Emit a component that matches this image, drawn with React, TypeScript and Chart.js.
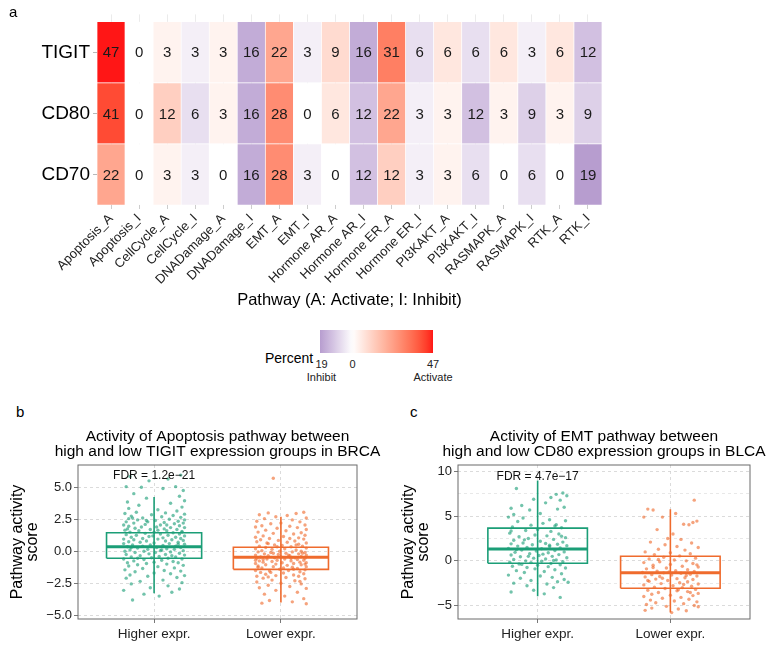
import React, { useEffect, useRef } from "react";
import { Chart, registerables } from "chart.js";

Chart.register(...registerables);

const FONT = '"Liberation Sans", Arial, Helvetica, sans-serif';
Chart.defaults.font.family = FONT;
Chart.defaults.color = "#222";

// ---------------- Heatmap data ----------------
const pathways = [
  "Apoptosis_A", "Apoptosis_I", "CellCycle_A", "CellCycle_I", "DNADamage_A", "DNADamage_I",
  "EMT_A", "EMT_I", "Hormone AR_A", "Hormone AR_I", "Hormone ER_A", "Hormone ER_I",
  "PI3KAKT_A", "PI3KAKT_I", "RASMAPK_A", "RASMAPK_I", "RTK_A", "RTK_I",
];
const genes = ["TIGIT", "CD80", "CD70"];
const tigitPct = [47, 0, 3, 3, 3, 16, 22, 3, 9, 16, 31, 6, 6, 6, 6, 3, 6, 12];
const cd80Pct = [41, 0, 12, 6, 3, 16, 28, 0, 6, 12, 22, 3, 3, 12, 3, 9, 3, 9];
const cd70Pct = [22, 0, 3, 3, 0, 16, 28, 3, 0, 12, 12, 3, 3, 6, 0, 6, 0, 19];
const heatXTitle = "Pathway (A: Activate; I: Inhibit)";
const legendTitle = "Percent";
const legendInhibit = 19;
const legendActivate = 47;
const legendLabels = ["Inhibit", "Activate"];

// ---------------- Box plot data ----------------
const groupLabels = ["Higher expr.", "Lower expr."];
const brcaTitle = ["Activity of Apoptosis pathway between", "high and low TIGIT expression groups in BRCA"];
const blcaTitle = ["Activity of EMT pathway between", "high and low CD80 expression groups in BLCA"];
const yTitle = ["Pathway activity", "score"];
const brcaFdr = "FDR = 1.2e\u221221";
const blcaFdr = "FDR = 4.7e\u221217";
const brcaFdrY = 5.9;
const blcaFdrY = 9.4;
const brcaRange = [-5.29, 6.74];
const blcaRange = [-6.52, 10.74];
const brcaMajor = [-5, -2.5, 0, 2.5, 5];
const brcaMajorLabels = ["\u22125.0", "\u22122.5", "0.0", "2.5", "5.0"];
const brcaMinor = [-3.75, -1.25, 1.25, 3.75, 6.25];
const blcaMajor = [-5, 0, 5, 10];
const blcaMajorLabels = ["\u22125", "0", "5", "10"];
const blcaMinor = [-2.5, 2.5, 7.5];
// [lower whisker, q1, median, q3, upper whisker]
const brcaHighStats = [-3.28, -0.55, 0.36, 1.45, 4.25];
const brcaLowStats = [-4.0, -1.41, -0.47, 0.31, 2.7];
const blcaHighStats = [-3.97, -0.27, 1.33, 3.67, 9.0];
const blcaLowStats = [-5.78, -3.08, -1.33, 0.51, 5.78];

// jittered points: [horizontal jitter, score]
const brcaHighPts = [
  [-0.19, 5.85], [0.11, 5.65], [-0.04, 5.5], [0.21, 5.95], [-0.22, 5.05], [-0.1, 5.0], [0.07, 4.9], [0.17, 5.05],
  [0.23, 4.75], [-0.16, 4.5], [0.2, 4.3], [-0.06, 4.15], [0.24, 3.95], [-0.21, 3.85], [0.13, 3.75], [-0.12, 3.6],
  [0.22, 3.45], [-0.2, 3.35], [0.03, 3.25], [0.18, 3.15], [-0.14, 3.05], [0.09, 3.0],
  [-0.23, 2.95], [0.24, 2.9], [-0.02, 2.85], [0.15, 2.8], [-0.18, 2.75], [0.06, 2.7], [0.21, 2.65], [-0.09, 2.6],
  [-0.2, 2.55], [0.12, 2.5], [0.24, 2.45], [-0.13, 2.45], [0.01, 2.4], [0.19, 2.35], [-0.22, 2.3], [-0.05, 2.3],
  [0.08, 2.25], [0.23, 2.2], [-0.16, 2.2], [0.16, 2.15], [-0.07, 2.1], [0.05, 2.05], [-0.24, 2.05], [0.2, 2.0],
  [-0.2, 1.95], [-0.1, 1.9], [0.02, 1.9], [0.13, 1.85], [0.24, 1.85], [-0.15, 1.8], [0.08, 1.75], [-0.03, 1.7],
  [0.18, 1.7], [-0.23, 1.65], [0.1, 1.6], [-0.12, 1.6], [0.22, 1.55], [0.0, 1.5], [-0.19, 1.5], [0.15, 1.45],
  [-0.07, 1.4], [0.05, 1.35], [0.2, 1.35], [-0.22, 1.3], [-0.14, 1.25], [0.11, 1.25], [0.24, 1.2], [-0.04, 1.15],
  [0.17, 1.1], [-0.18, 1.1], [0.07, 1.05], [-0.09, 1.0], [0.21, 1.0], [-0.24, 0.95],
  [0.03, 0.95], [-0.16, 0.9], [0.14, 0.9], [0.23, 0.85], [-0.06, 0.8], [0.09, 0.8], [-0.2, 0.75], [0.19, 0.7],
  [-0.11, 0.7], [0.0, 0.65], [-0.24, 0.6], [0.12, 0.6], [0.24, 0.55], [-0.03, 0.5], [-0.17, 0.5], [0.07, 0.45],
  [0.17, 0.4], [-0.09, 0.4], [-0.21, 0.35], [0.02, 0.3], [0.21, 0.3], [-0.13, 0.25], [0.1, 0.2], [-0.05, 0.15],
  [0.16, 0.15], [-0.19, 0.1], [0.05, 0.05], [0.23, 0.05], [-0.08, 0.0], [-0.23, 0.0],
  [0.13, -0.05], [-0.15, -0.1], [0.01, -0.1], [0.2, -0.15], [-0.04, -0.2], [0.09, -0.25], [-0.22, -0.25], [0.24, -0.3],
  [-0.11, -0.35], [0.04, -0.4], [0.17, -0.45], [-0.18, -0.45], [-0.02, -0.5], [0.11, -0.55], [-0.24, -0.6], [0.22, -0.6],
  [-0.08, -0.65], [0.06, -0.7], [-0.16, -0.75], [0.15, -0.8], [0.0, -0.85], [-0.21, -0.9], [0.19, -0.9], [-0.06, -0.95],
  [0.1, -1.0], [-0.13, -1.05], [0.23, -1.1], [-0.2, -1.15], [0.03, -1.2], [0.16, -1.3], [-0.09, -1.35], [-0.23, -1.45],
  [0.08, -1.5], [0.21, -1.55], [-0.15, -1.6], [0.0, -1.7], [0.13, -1.75], [-0.19, -1.85], [0.24, -1.9], [-0.05, -1.95],
  [0.18, -2.05], [-0.22, -2.1], [0.07, -2.25], [-0.11, -2.35], [0.22, -2.45], [-0.18, -2.55], [0.11, -2.7], [-0.03, -2.85],
  [0.2, -2.95], [-0.24, -3.05], [0.14, -3.2], [-0.08, -3.35], [0.04, -3.5], [-0.17, -3.8],
  [-0.17, 2.6], [0.1, 2.05], [-0.01, 1.2], [0.19, 0.55], [-0.21, 1.75], [0.06, 0.1], [-0.13, -0.55], [0.22, 1.5],
  [-0.06, 2.4], [0.14, -0.35], [-0.18, 0.3], [0.03, 1.65],
];
const brcaLowPts = [
  [-0.06, 5.7], [-0.1, 3.0], [0.18, 3.05], [0.12, 2.95], [-0.17, 2.85], [0.05, 2.8], [-0.04, 2.7], [0.2, 2.6],
  [-0.13, 2.55], [0.09, 2.45], [-0.19, 2.35], [0.15, 2.3], [0.0, 2.2], [-0.08, 2.15], [0.19, 2.05], [-0.15, 2.0],
  [0.07, 1.95], [-0.2, 1.9], [0.13, 1.85], [-0.03, 1.8], [0.2, 1.7], [-0.12, 1.65], [0.04, 1.6], [-0.18, 1.5],
  [0.16, 1.45], [-0.06, 1.4], [0.1, 1.35], [0.19, 1.25], [-0.14, 1.2], [0.02, 1.15], [-0.2, 1.1], [0.14, 1.05],
  [-0.09, 1.0], [0.07, 1.0], [0.18, 0.95], [-0.16, 0.9], [-0.02, 0.85], [0.11, 0.8], [-0.19, 0.75], [0.05, 0.7],
  [0.2, 0.65], [-0.1, 0.6], [0.14, 0.55], [-0.05, 0.5], [0.01, 0.45], [-0.17, 0.4], [0.17, 0.4], [0.08, 0.35],
  [-0.12, 0.3], [0.2, 0.25], [-0.2, 0.2], [0.03, 0.2], [-0.07, 0.15], [0.12, 0.1], [-0.15, 0.05], [0.16, 0.0],
  [-0.01, 0.0], [0.09, -0.05], [-0.18, -0.05], [0.19, -0.1], [-0.08, -0.1], [0.04, -0.15], [-0.13, -0.2], [0.14, -0.2],
  [-0.02, -0.25], [0.2, -0.3], [-0.2, -0.3], [0.07, -0.35], [-0.1, -0.35], [0.16, -0.4], [0.0, -0.45], [-0.16, -0.45],
  [0.11, -0.5], [-0.05, -0.5], [0.19, -0.55], [-0.19, -0.55], [0.03, -0.6], [-0.11, -0.6], [0.13, -0.65], [-0.03, -0.7],
  [0.18, -0.7], [-0.17, -0.75], [0.08, -0.75], [-0.07, -0.8], [0.15, -0.85], [-0.14, -0.85], [0.01, -0.9], [0.2, -0.9],
  [-0.2, -0.95], [0.1, -0.95], [-0.04, -1.0], [0.16, -1.05], [-0.12, -1.05], [0.05, -1.1], [-0.18, -1.15], [0.2, -1.2],
  [-0.06, -1.2], [0.09, -1.25], [-0.15, -1.3], [0.13, -1.35], [-0.01, -1.4], [0.19, -1.45], [-0.2, -1.5], [0.06, -1.5],
  [-0.09, -1.55], [0.15, -1.6], [-0.16, -1.65], [0.02, -1.7], [0.18, -1.75], [-0.12, -1.8], [0.1, -1.85], [-0.04, -1.9],
  [-0.19, -1.95], [0.14, -1.95], [0.04, -2.05], [-0.14, -2.1], [0.19, -2.15], [-0.07, -2.25], [0.11, -2.3], [-0.19, -2.4],
  [0.0, -2.5], [0.16, -2.55], [-0.1, -2.65], [0.07, -2.75], [-0.17, -2.85], [0.2, -2.9], [-0.04, -3.05], [0.13, -3.2],
  [-0.13, -3.35], [0.03, -3.5], [0.18, -3.7], [-0.09, -3.85], [-0.15, -4.05], [0.09, -3.95], [0.2, -4.1],
  [-0.11, 0.65], [0.06, -0.3], [-0.08, -1.65], [0.17, -0.15], [-0.14, -0.65], [0.1, -1.4], [-0.03, 0.35], [0.15, -2.35],
  [-0.18, -1.25], [0.08, -0.55], [-0.06, -0.15], [0.19, -1.0], [-0.2, -0.7], [0.02, -1.3], [0.12, 0.5], [-0.1, -2.0],
];
const blcaHighPts = [
  [-0.16, 8.1], [0.19, 7.6], [0.14, 7.45], [0.22, 7.3], [0.1, 7.1], [-0.03, 6.9], [0.17, 6.8], [0.06, 6.5],
  [-0.12, 6.2], [0.2, 6.0], [-0.2, 5.9], [-0.06, 5.7], [0.15, 5.8], [-0.18, 5.2], [0.02, 5.3], [-0.22, 4.9],
  [-0.11, 4.8], [0.09, 4.6], [0.21, 4.5], [-0.15, 4.4], [0.04, 4.2], [-0.05, 4.0], [0.13, 3.9], [-0.19, 3.8],
  [0.18, 3.7], [0.0, 3.5], [-0.09, 3.4], [0.1, 3.3], [-0.21, 3.1], [0.16, 3.0], [-0.02, 2.9], [0.07, 2.8],
  [-0.14, 2.7], [0.21, 2.6], [-0.07, 2.5], [0.12, 2.4], [-0.18, 2.3], [0.02, 2.2], [0.19, 2.1], [-0.11, 2.0],
  [0.06, 1.95], [-0.2, 1.9], [0.15, 1.85], [-0.04, 1.8], [0.22, 1.7], [-0.15, 1.65], [0.09, 1.6], [-0.08, 1.5],
  [0.17, 1.45], [-0.22, 1.4], [0.03, 1.35], [-0.12, 1.2], [0.13, 1.15], [-0.01, 1.1], [0.2, 1.0], [-0.17, 0.95],
  [0.08, 0.9], [-0.06, 0.8], [0.16, 0.7], [-0.2, 0.65], [0.01, 0.6], [0.11, 0.5], [-0.13, 0.45], [0.22, 0.35],
  [-0.03, 0.3], [0.06, 0.2], [-0.18, 0.15], [0.14, 0.1], [-0.09, 0.0], [0.03, -0.05], [0.19, -0.1], [-0.21, -0.15],
  [-0.05, -0.2], [0.1, -0.3], [-0.14, -0.35], [0.17, -0.45], [0.0, -0.5], [-0.19, -0.6], [0.08, -0.65], [-0.08, -0.75],
  [0.21, -0.8], [-0.02, -0.9], [0.13, -1.0], [-0.16, -1.1], [0.05, -1.2], [-0.1, -1.3], [0.18, -1.45], [-0.22, -1.6],
  [0.02, -1.7], [0.11, -1.85], [-0.13, -1.95], [0.2, -2.1], [-0.05, -2.2], [0.15, -2.35], [0.23, -2.4], [-0.18, -2.5],
  [0.07, -2.6], [-0.08, -2.8], [0.12, -3.0], [-0.03, -3.3], [-0.2, -3.5], [0.05, -3.7], [0.17, -4.1],
  [-0.1, 2.35], [0.09, 1.75], [-0.16, 1.25], [0.04, 0.75], [-0.07, 0.5], [0.18, 2.75], [-0.2, 3.35], [0.12, 0.05],
  [-0.12, -0.4], [0.14, 4.05],
];
const blcaLowPts = [
  [0.18, 6.8], [-0.17, 5.8], [-0.13, 5.7], [0.04, 5.3], [0.2, 4.45], [0.17, 4.3], [-0.2, 4.9], [-0.06, 4.9],
  [0.1, 4.1], [0.14, 4.05], [-0.1, 3.5], [0.02, 3.0], [-0.02, 2.5], [0.08, 2.4], [-0.15, 2.1], [0.16, 2.0],
  [-0.04, 1.8], [0.05, 1.6], [0.21, 1.5], [-0.09, 1.3], [0.11, 1.2], [-0.19, 1.0], [0.0, 0.9], [0.15, 0.8],
  [-0.12, 0.7], [0.07, 0.55], [-0.05, 0.4], [0.19, 0.3], [-0.16, 0.2], [0.03, 0.1], [0.12, 0.0], [-0.08, -0.1],
  [-0.2, -0.2], [0.17, -0.3], [0.0, -0.4], [-0.13, -0.5], [0.09, -0.6], [0.21, -0.7], [-0.03, -0.8], [-0.18, -0.9],
  [0.13, -1.0], [0.04, -1.1], [-0.1, -1.15], [0.18, -1.2], [-0.21, -1.3], [-0.05, -1.35], [0.08, -1.4], [0.15, -1.5],
  [-0.14, -1.55], [0.01, -1.6], [0.2, -1.7], [-0.08, -1.75], [-0.19, -1.8], [0.11, -1.9], [0.05, -2.0], [-0.11, -2.05],
  [0.17, -2.1], [-0.02, -2.2], [-0.16, -2.3], [0.13, -2.35], [0.07, -2.45], [-0.07, -2.55], [0.21, -2.6], [-0.2, -2.7],
  [0.02, -2.8], [0.16, -2.85], [-0.12, -2.95], [0.09, -3.0], [-0.04, -3.1], [0.19, -3.2], [-0.17, -3.3], [0.05, -3.35],
  [0.13, -3.45], [-0.09, -3.55], [0.21, -3.65], [-0.14, -3.75], [0.0, -3.85], [0.17, -3.9], [-0.2, -4.0], [0.08, -4.1],
  [-0.06, -4.2], [0.14, -4.3], [-0.15, -4.4], [0.03, -4.5], [0.2, -4.6], [-0.11, -4.7], [0.1, -4.8], [-0.18, -4.9],
  [0.18, -5.0], [-0.03, -5.1], [0.21, -5.15], [-0.14, -5.3], [0.06, -5.4], [-0.19, -5.55], [0.12, -5.6], [0.01, -5.8],
  [-0.01, -1.25], [0.1, -2.65], [-0.13, -0.75], [0.06, -3.25], [-0.06, -1.95], [0.2, -0.45], [-0.17, -2.2], [0.15, -3.55],
  [-0.09, 0.15], [0.12, -1.65],
];

// ---------------- colours ----------------
type RGB = [number, number, number];
const WHITE: RGB = [255, 255, 255];
const RED: RGB = [255, 22, 22];
const PURPLE: RGB = [183, 157, 207];
const GREEN = "#1B9E77";
const ORANGE = "#EF6B2D";
const GREEN_PT = "rgba(27,158,119,0.62)";
const ORANGE_PT = "rgba(239,107,45,0.62)";

function toLin(c: number) {
  c /= 255;
  return c <= 0.04045 ? c / 12.92 : Math.pow((c + 0.055) / 1.055, 2.4);
}
function fromLin(c: number) {
  const v = c <= 0.0031308 ? 12.92 * c : 1.055 * Math.pow(c, 1 / 2.4) - 0.055;
  return Math.round(Math.max(0, Math.min(1, v)) * 255);
}
function rgb2lab(c: RGB): RGB {
  const r = toLin(c[0]), g = toLin(c[1]), b = toLin(c[2]);
  const X = (0.4124 * r + 0.3576 * g + 0.1805 * b) / 0.95047;
  const Y = 0.2126 * r + 0.7152 * g + 0.0722 * b;
  const Z = (0.0193 * r + 0.1192 * g + 0.9505 * b) / 1.08883;
  const f = (t: number) => (t > 0.008856 ? Math.cbrt(t) : 7.787 * t + 16 / 116);
  const fx = f(X), fy = f(Y), fz = f(Z);
  return [116 * fy - 16, 500 * (fx - fy), 200 * (fy - fz)];
}
function lab2rgb(l: RGB): RGB {
  const fy = (l[0] + 16) / 116;
  const fx = fy + l[1] / 500;
  const fz = fy - l[2] / 200;
  const inv = (t: number) => (t * t * t > 0.008856 ? t * t * t : (t - 16 / 116) / 7.787);
  const X = inv(fx) * 0.95047, Y = inv(fy), Z = inv(fz) * 1.08883;
  const r = 3.2406 * X - 1.5372 * Y - 0.4986 * Z;
  const g = -0.9689 * X + 1.8758 * Y + 0.0415 * Z;
  const b = 0.0557 * X - 0.204 * Y + 1.057 * Z;
  return [fromLin(r), fromLin(g), fromLin(b)];
}
function mixLab(a: RGB, b: RGB, t: number): string {
  const A = rgb2lab(a), B = rgb2lab(b);
  const c = lab2rgb([A[0] + (B[0] - A[0]) * t, A[1] + (B[1] - A[1]) * t, A[2] + (B[2] - A[2]) * t]);
  return `rgb(${c[0]},${c[1]},${c[2]})`;
}
function heatColor(v: number) {
  return v >= 0 ? mixLab(WHITE, RED, v / legendActivate) : mixLab(WHITE, PURPLE, -v / legendInhibit);
}
function signedValue(v: number, i: number) {
  return pathways[i].endsWith("_I") ? -v : v;
}

// ---------------- Heatmap ----------------
function Heatmap() {
  const ref = useRef<HTMLCanvasElement>(null);
  useEffect(() => {
    const rows = [cd70Pct, cd80Pct, tigitPct]; // bottom to top
    const rowNames = [genes[2], genes[1], genes[0]];
    const cellText = {
      id: "cellText",
      afterDatasetsDraw(chart: any) {
        const { ctx, scales } = chart;
        ctx.save();
        ctx.font = `15px ${FONT}`;
        ctx.fillStyle = "#1a1a1a";
        ctx.textAlign = "center";
        ctx.textBaseline = "middle";
        rows.forEach((vals, r) => {
          vals.forEach((v, i) => {
            ctx.fillText(String(v), scales.x.getPixelForValue(i), scales.y.getPixelForValue(r + 0.5) + 1);
          });
        });
        ctx.restore();
      },
    };
    const chart = new Chart(ref.current!, {
      type: "bar",
      data: {
        labels: pathways,
        datasets: rows.map((vals, r) => ({
          label: rowNames[r],
          data: vals.map(() => 1),
          backgroundColor: vals.map((v, i) => heatColor(signedValue(v, i))),
          borderColor: "rgba(255,255,255,0.55)",
          borderWidth: 0.7,
          borderSkipped: false,
          barPercentage: 1,
          categoryPercentage: 1,
        })),
      },
      options: {
        animation: false,
        responsive: false,
        events: [],
        layout: { padding: { top: 12.6, left: 0, right: 169, bottom: 2 } },
        plugins: { legend: { display: false }, tooltip: { enabled: false } },
        scales: {
          x: {
            stacked: true,
            offset: true,
            grid: { offset: false, color: "#e2e2e2", lineWidth: 0.7, drawTicks: true, tickLength: 4, tickColor: "#b8b8b8" },
            border: { display: false },
            ticks: { autoSkip: false, maxRotation: 45, minRotation: 45, padding: 2, color: "#222", font: { size: 13 } },
            title: { display: true, text: heatXTitle, color: "#000", font: { size: 16.5 }, padding: { top: 0, bottom: 0 } },
            afterFit: (s: any) => { s.height = 105; },
          },
          y: {
            stacked: true,
            min: 0,
            max: 3.12,
            afterBuildTicks: (s: any) => { s.ticks = rowNames.map((_, i) => ({ value: i + 0.5 })); },
            ticks: { color: "#000", padding: 3, font: { size: 19 }, callback: (v: any) => rowNames[Math.floor(Number(v))] },
            grid: { drawOnChartArea: false, drawTicks: true, tickLength: 4, tickColor: "#b8b8b8" },
            border: { display: false },
            afterFit: (s: any) => { s.width = 97; },
          },
        },
      },
      plugins: [cellText],
    } as any);
    return () => chart.destroy();
  }, []);
  return <canvas ref={ref} width={771} height={312} style={{ position: "absolute", left: 0, top: 0 }} />;
}

function Legend() {
  const left = 320, width = 113, top = 330, height = 23;
  const span = legendInhibit + legendActivate;
  const stops: string[] = [];
  for (let k = 0; k <= 33; k++) {
    const v = -legendInhibit + (span * k) / 33;
    stops.push(`${heatColor(v)} ${((100 * k) / 33).toFixed(2)}%`);
  }
  const zeroX = left + (width * legendInhibit) / span;
  const lab: React.CSSProperties = { position: "absolute", width: 80, textAlign: "center", fontSize: 11, lineHeight: "13px", color: "#222" };
  return (
    <>
      <div style={{ position: "absolute", left, top, width, height, background: `linear-gradient(to right, ${stops.join(", ")})` }} />
      <div style={{ position: "absolute", left: 265, top: 351, fontSize: 14, lineHeight: "14px", color: "#000" }}>{legendTitle}</div>
      <div style={{ ...lab, left: left + 1.5 - 40, top: 358 }}>{legendInhibit}<br />{legendLabels[0]}</div>
      <div style={{ ...lab, left: zeroX - 40, top: 358 }}>0</div>
      <div style={{ ...lab, left: left + width - 40, top: 358 }}>{legendActivate}<br />{legendLabels[1]}</div>
    </>
  );
}

// ---------------- Box panels ----------------
const HALF_BOX = 0.375;

type PanelProps = {
  left: number; top: number; width: number; height: number;
  padLeft: number; padRight: number; axisWidth: number;
  title: string[]; range: number[]; major: number[]; majorLabels: string[]; minor: number[];
  fdr: string; fdrY: number;
  highPts: number[][]; lowPts: number[][]; highStats: number[]; lowStats: number[];
};

function boxDatasets(stats: number[], cx: number, color: string) {
  const [lo, q1, med, q3, hi] = stats;
  const common = { showLine: true, pointRadius: 0, fill: false, borderColor: color, backgroundColor: color, tension: 0 };
  return [
    { ...common, borderWidth: 3, data: [{ x: cx - HALF_BOX, y: med }, { x: cx + HALF_BOX, y: med }] },
    {
      ...common, borderWidth: 1.6, borderJoinStyle: "miter",
      data: [
        { x: cx - HALF_BOX, y: q1 }, { x: cx + HALF_BOX, y: q1 }, { x: cx + HALF_BOX, y: q3 },
        { x: cx - HALF_BOX, y: q3 }, { x: cx - HALF_BOX, y: q1 },
      ],
    },
    { ...common, borderWidth: 1.6, data: [{ x: cx, y: lo }, { x: cx, y: hi }] },
  ];
}

function BoxPanel(p: PanelProps) {
  const ref = useRef<HTMLCanvasElement>(null);
  useEffect(() => {
    const frame = {
      id: "frame",
      afterDatasetsDraw(chart: any) {
        const { ctx, chartArea: a, scales } = chart;
        ctx.save();
        ctx.strokeStyle = "#6b6b6b";
        ctx.lineWidth = 1;
        ctx.strokeRect(a.left, a.top, a.right - a.left, a.bottom - a.top);
        ctx.font = `12px ${FONT}`;
        ctx.fillStyle = "#111";
        ctx.textAlign = "center";
        ctx.textBaseline = "middle";
        ctx.fillText(p.fdr, scales.x.getPixelForValue(1), scales.y.getPixelForValue(p.fdrY));
        // two-line panel title centred over the plotting area
        ctx.font = `15.5px ${FONT}`;
        ctx.fillStyle = "#000";
        ctx.textBaseline = "alphabetic";
        const cx = (a.left + a.right) / 2;
        ctx.fillText(p.title[0], cx, a.top - 24);
        ctx.fillText(p.title[1], cx, a.top - 9);
        ctx.restore();
      },
    };
    const pts = (arr: number[][], cx: number) => arr.map(([dx, y]) => ({ x: cx + dx, y }));
    const allTicks = [...p.major, ...p.minor].sort((a, b) => a - b);
    const chart = new Chart(ref.current!, {
      type: "scatter",
      data: {
        datasets: [
          ...boxDatasets(p.highStats, 1, GREEN),
          ...boxDatasets(p.lowStats, 2, ORANGE),
          { data: pts(p.highPts, 1), pointRadius: 1.7, pointBorderWidth: 0, backgroundColor: GREEN_PT, borderColor: GREEN_PT },
          { data: pts(p.lowPts, 2), pointRadius: 1.7, pointBorderWidth: 0, backgroundColor: ORANGE_PT, borderColor: ORANGE_PT },
        ],
      },
      options: {
        animation: false,
        responsive: false,
        events: [],
        layout: { padding: { top: 45, left: p.padLeft, right: p.padRight, bottom: 0 } },
        plugins: {
          legend: { display: false },
          tooltip: { enabled: false },
          title: { display: false },
        },
        scales: {
          x: {
            type: "linear", min: 0.4, max: 2.6,
            afterBuildTicks: (s: any) => { s.ticks = groupLabels.map((_, i) => ({ value: i + 1 })); },
            ticks: { autoSkip: false, padding: 3, color: "#222", font: { size: 13.5 }, maxRotation: 0, callback: (v: any) => groupLabels[Math.round(Number(v)) - 1] },
            grid: { color: "#d2d2d2", lineWidth: 0.8, tickLength: 4, tickColor: "#555", tickBorderDash: [] },
            border: { display: false, dash: [3, 3] },
            afterFit: (s: any) => { s.height = 28; },
          },
          y: {
            type: "linear", min: p.range[0], max: p.range[1],
            afterBuildTicks: (s: any) => { s.ticks = allTicks.map((v) => ({ value: v })); },
            ticks: {
              padding: 2, color: "#222", font: { size: 13 },
              callback: (v: any) => { const i = p.major.indexOf(Number(v)); return i >= 0 ? p.majorLabels[i] : ""; },
            },
            grid: {
              color: (c: any) => (p.major.includes(c.tick?.value) ? "#d2d2d2" : "#e3e3e3"),
              lineWidth: 0.8, tickLength: 4, tickBorderDash: [],
              tickColor: (c: any) => (p.major.includes(c.tick?.value) ? "#555" : "rgba(0,0,0,0)"),
            },
            border: { display: false, dash: [3, 3] },
            title: { display: true, text: yTitle, color: "#000", font: { size: 16, lineHeight: 0.95 }, padding: { top: 0, bottom: 0 } },
            afterFit: (s: any) => { s.width = p.axisWidth; },
          },
        },
      },
      plugins: [frame],
    } as any);
    return () => chart.destroy();
  }, []);
  return <canvas ref={ref} width={p.width} height={p.height} style={{ position: "absolute", left: p.left, top: p.top }} />;
}

export default function App() {
  const letter: React.CSSProperties = { position: "absolute", fontSize: 15, lineHeight: "15px", color: "#000" };
  return (
    <div style={{ position: "absolute", left: 0, top: 0, width: 771, height: 647, overflow: "hidden", background: "#fff", fontFamily: FONT }}>
      <Heatmap />
      <Legend />
      <div style={{ ...letter, left: 9, top: 4 }}>a</div>
      <div style={{ ...letter, left: 16, top: 404 }}>b</div>
      <div style={{ ...letter, left: 410, top: 404 }}>c</div>
      <BoxPanel
        left={0} top={420} width={390} height={227} padLeft={10} padRight={33} axisWidth={68}
        title={brcaTitle} range={brcaRange} major={brcaMajor} majorLabels={brcaMajorLabels} minor={brcaMinor}
        fdr={brcaFdr} fdrY={brcaFdrY} highPts={brcaHighPts} lowPts={brcaLowPts} highStats={brcaHighStats} lowStats={brcaLowStats}
      />
      <BoxPanel
        left={390} top={420} width={381} height={227} padLeft={11} padRight={21} axisWidth={57}
        title={blcaTitle} range={blcaRange} major={blcaMajor} majorLabels={blcaMajorLabels} minor={blcaMinor}
        fdr={blcaFdr} fdrY={blcaFdrY} highPts={blcaHighPts} lowPts={blcaLowPts} highStats={blcaHighStats} lowStats={blcaLowStats}
      />
    </div>
  );
}
